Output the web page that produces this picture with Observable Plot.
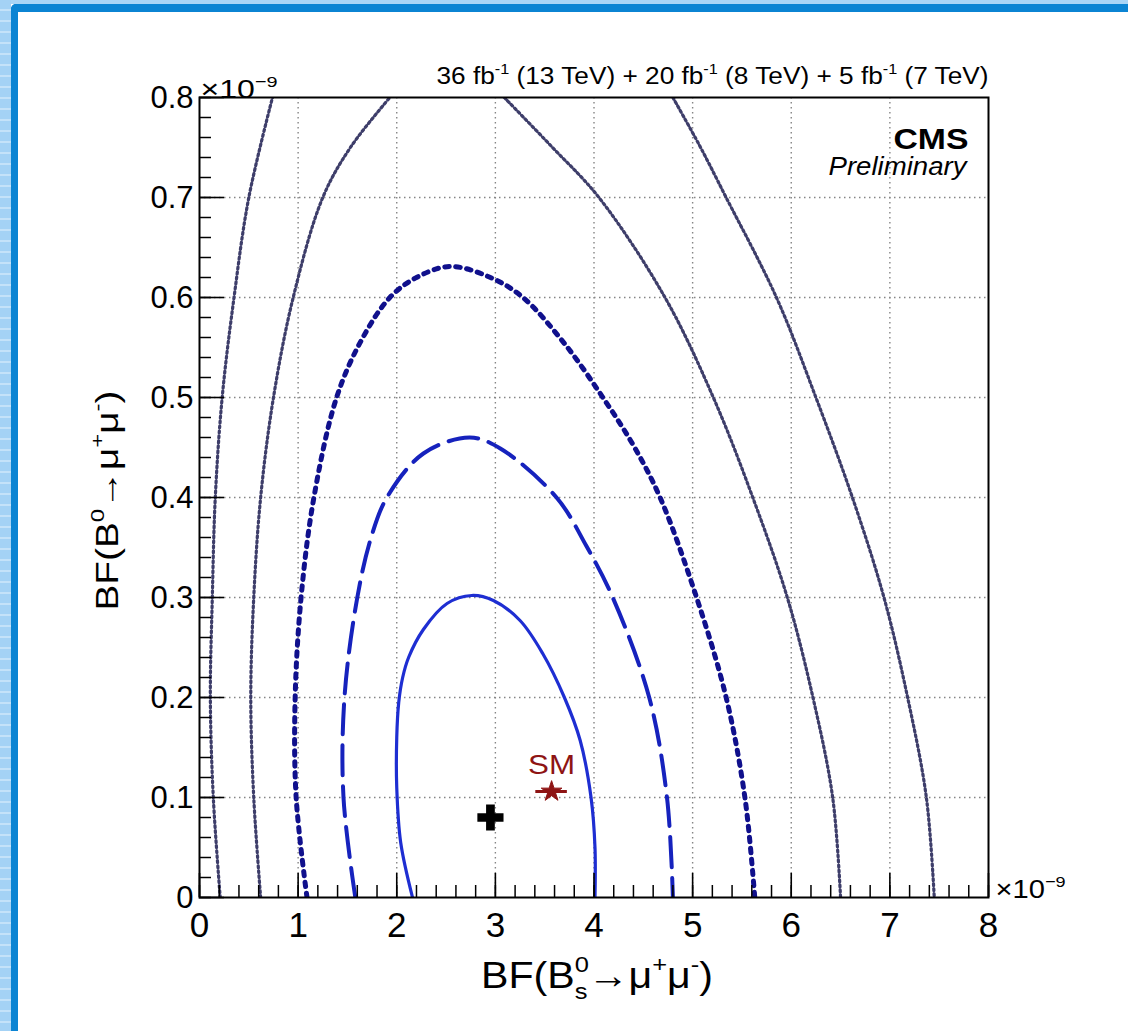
<!DOCTYPE html>
<html>
<head>
<meta charset="utf-8">
<script src="https://cdn.jsdelivr.net/npm/d3@7"></script>
<script src="https://cdn.jsdelivr.net/npm/@observablehq/plot@0.6"></script>
<style>
  html, body { margin: 0; padding: 0; background: #ffffff; }
  #page { position: relative; width: 1128px; height: 1031px; overflow: hidden; background: #ffffff; }
  #lightTop { position: absolute; left: 0; top: 0; width: 1128px; height: 4px; background: #a9d5f6; }
  #lightLeft { position: absolute; left: 0; top: 0; width: 11px; height: 1031px;
    background: repeating-linear-gradient(180deg, #a4d2f5 0px, #a4d2f5 9px, #c4e2f9 9px, #c4e2f9 11px); }
  #darkTop { position: absolute; left: 11px; top: 4px; width: 1117px; height: 8px; background: #0b84d3; border-top-left-radius: 5px; }
  #darkLeft { position: absolute; left: 11px; top: 4px; width: 7px; height: 1027px; background: #0b84d3; border-top-left-radius: 5px; }
  #chart { position: absolute; left: 0; top: 0; }
</style>
</head>
<body>
<div id="page">
  <div id="lightTop"></div><div id="lightLeft"></div>
  <div id="darkTop"></div><div id="darkLeft"></div>
  <div id="chart"></div>
</div>
<script>
// ---------------- data (units of 1e-9) ----------------
const sigma1X = [2.16, 2.04, 2.00, 2.00, 2.02, 2.06, 2.12, 2.27, 2.51, 2.76, 2.98, 3.25, 3.48, 3.70, 3.86, 3.97, 4.01, 4.01];
const sigma1Y = [0.000, 0.055, 0.110, 0.160, 0.195, 0.220, 0.240, 0.268, 0.294, 0.302, 0.297, 0.277, 0.244, 0.200, 0.157, 0.100, 0.050, 0.000];

const sigma2X = [1.58, 1.46, 1.47, 1.60, 1.74, 1.90, 2.27, 2.74, 3.05, 3.62, 3.92, 4.19, 4.56, 4.74, 4.80];
const sigma2Y = [0.000, 0.100, 0.200, 0.300, 0.360, 0.400, 0.444, 0.460, 0.449, 0.400, 0.352, 0.300, 0.200, 0.100, 0.000];

const sigma3X = [1.09, 0.98, 0.97, 1.03, 1.16, 1.39, 1.64, 1.93, 2.20, 2.54, 2.95, 3.28, 3.70, 4.09, 4.40, 4.67, 5.04, 5.34, 5.53, 5.63];
const sigma3Y = [0.000, 0.100, 0.200, 0.300, 0.400, 0.500, 0.557, 0.600, 0.620, 0.631, 0.620, 0.600, 0.554, 0.500, 0.452, 0.400, 0.300, 0.200, 0.100, 0.000];

const sigma4LeftX = [0.62, 0.55, 0.52, 0.55, 0.62, 0.75, 0.95, 1.25, 1.53, 1.93];
const sigma4LeftY = [0.000, 0.100, 0.200, 0.300, 0.400, 0.500, 0.600, 0.700, 0.750, 0.800];
const sigma4RightX = [3.09, 3.57, 4.05, 4.72, 5.21, 5.61, 5.96, 6.22, 6.42, 6.50];
const sigma4RightY = [0.800, 0.751, 0.700, 0.600, 0.500, 0.400, 0.300, 0.200, 0.100, 0.000];

const sigma5LeftX = [0.21, 0.14, 0.11, 0.13, 0.16, 0.23, 0.35, 0.50, 0.74];
const sigma5LeftY = [0.000, 0.100, 0.200, 0.300, 0.400, 0.500, 0.600, 0.700, 0.800];
const sigma5RightX = [4.80, 5.07, 5.34, 5.85, 6.25, 6.62, 6.94, 7.18, 7.37, 7.45];
const sigma5RightY = [0.800, 0.752, 0.700, 0.600, 0.500, 0.400, 0.300, 0.200, 0.100, 0.000];

const bestFit = [{x: 2.95, y: 0.080}];
const smPoint = [{x: 3.57, y: 0.106, xlo: 3.41, xhi: 3.73, label: "SM"}];

const xTickValues = [0, 1, 2, 3, 4, 5, 6, 7, 8];
const xTickLabels = ["0", "1", "2", "3", "4", "5", "6", "7", "8"];
const yTickValues = [0, 0.1, 0.2, 0.3, 0.4, 0.5, 0.6, 0.7, 0.8];
const yTickLabels = ["0", "0.1", "0.2", "0.3", "0.4", "0.5", "0.6", "0.7", "0.8"];
const xGridValues = [1, 2, 3, 4, 5, 6, 7];
const yGridValues = [0.1, 0.2, 0.3, 0.4, 0.5, 0.6, 0.7];

const headerText = "36 fb^{-1} (13 TeV) + 20 fb^{-1} (8 TeV) + 5 fb^{-1} (7 TeV)";
const cmsText = "CMS";
const prelimText = "Preliminary";
const exponentTopText = "×10^{−9}";
const exponentRightText = "×10^{−9} ";
const xTitle = "BF(B^{0}_{s}→μ^{+}μ^{-})";
const yTitle = "BF(B^{0}→μ^{+}μ^{-})";

// ---------------- build tables ----------------
function toPoints(xs, ys, branch) { return xs.map((x, i) => ({x, y: ys[i], branch})); }
const c1 = toPoints(sigma1X, sigma1Y, "a");
const c2 = toPoints(sigma2X, sigma2Y, "a");
const c3 = toPoints(sigma3X, sigma3Y, "a");
const c4 = toPoints(sigma4LeftX, sigma4LeftY, "left").concat(toPoints(sigma4RightX, sigma4RightY, "right"));
const c5 = toPoints(sigma5LeftX, sigma5LeftY, "left").concat(toPoints(sigma5RightX, sigma5RightY, "right"));

const xMinor = d3.range(0, 8.0001, 0.2);
const yMinor = d3.range(0, 0.8001, 0.02);

const W = 1128, H = 1031;
const mL = 199, mR = 140, mT = 97, mB = 134;
const plotW = W - mL - mR, plotH = H - mT - mB;

const lineBase = {x: "x", y: "y", z: "branch", curve: "catmull-rom", clip: true, fill: "none"};

const chart = Plot.plot({
  width: W, height: H,
  marginLeft: mL, marginRight: mR, marginTop: mT, marginBottom: mB,
  style: {fontFamily: "'Liberation Sans', Arial, Helvetica, sans-serif", background: "transparent", overflow: "visible", color: "black"},
  x: {domain: [0, 8], axis: null},
  y: {domain: [0, 0.8], axis: null},
  marks: [
    Plot.ruleX(xGridValues, {x: d => d, stroke: "#858585", strokeWidth: 1.4, strokeDasharray: "1.5,3.5", strokeOpacity: 1}),
    Plot.ruleY(yGridValues, {y: d => d, stroke: "#858585", strokeWidth: 1.4, strokeDasharray: "1.5,3.5", strokeOpacity: 1}),

    Plot.line(c5, {...lineBase, stroke: "#3e3e6a", strokeWidth: 3.2, strokeDasharray: "2,3"}),
    Plot.line(c4, {...lineBase, stroke: "#3e3e6a", strokeWidth: 3.2, strokeDasharray: "2,3"}),
    Plot.line(c3, {...lineBase, stroke: "#10108c", strokeWidth: 5, strokeDasharray: "4.5,6.5"}),
    Plot.line(c2, {...lineBase, stroke: "#1622bd", strokeWidth: 4, strokeDasharray: "30,11"}),
    Plot.line(c1, {...lineBase, stroke: "#1e2ed2", strokeWidth: 3.2}),

    Plot.tickX(xTickValues, {x: d => d, insetTop: plotH - 24, stroke: "black", strokeWidth: 1.6}),
    Plot.tickX(xMinor, {x: d => d, insetTop: plotH - 12, stroke: "black", strokeWidth: 1.5}),
    Plot.tickY(yTickValues, {y: d => d, insetRight: plotW - 25, stroke: "black", strokeWidth: 1.6}),
    Plot.tickY(yMinor, {y: d => d, insetRight: plotW - 12, stroke: "black", strokeWidth: 1.5}),
    Plot.frame({stroke: "black", strokeWidth: 2}),

    Plot.text(xTickValues, {x: d => d, text: (d, i) => xTickLabels[i], frameAnchor: "bottom", lineAnchor: "top", dy: 15, fontSize: 35, fill: "black"}),
    Plot.text(yTickValues, {y: d => d, text: (d, i) => yTickLabels[i], frameAnchor: "left", textAnchor: "end", lineAnchor: "middle", dx: -6, dy: 1, fontSize: 31, fill: "black"}),

    Plot.text([exponentTopText], {text: d => d, frameAnchor: "top-left", textAnchor: "start", lineAnchor: "bottom", dx: 1, dy: 0, fontSize: 25, fill: "black"}),
    Plot.text([exponentRightText], {text: d => d, frameAnchor: "bottom-right", textAnchor: "start", lineAnchor: "bottom", dx: 7, dy: 0, fontSize: 25, fill: "black"}),

    Plot.text([headerText], {text: d => d, frameAnchor: "top-right", textAnchor: "end", lineAnchor: "bottom", dy: -14, fontSize: 23, fill: "black"}),
    Plot.text([cmsText], {text: d => d, frameAnchor: "top-right", textAnchor: "end", lineAnchor: "bottom", dx: -20, dy: 51, fontSize: 29, fontWeight: "bold", fill: "black"}),
    Plot.text([prelimText], {text: d => d, frameAnchor: "top-right", textAnchor: "end", lineAnchor: "bottom", dx: -22, dy: 77, fontSize: 25, fontStyle: "italic", fill: "black"}),

    Plot.text([xTitle], {text: d => d, frameAnchor: "bottom", textAnchor: "middle", lineAnchor: "bottom", dx: 3, dy: 90, fontSize: 37, fill: "black"}),
    Plot.text([yTitle], {text: d => d, frameAnchor: "left", textAnchor: "middle", lineAnchor: "bottom", rotate: -90, dx: -82, dy: 3, fontSize: 31, fill: "black"}),

    Plot.dot(bestFit, {x: "x", y: "y", symbol: "cross", r: 11, fill: "black", stroke: "none"}),
    Plot.ruleY(smPoint, {y: "y", x1: "xlo", x2: "xhi", stroke: "#8e1414", strokeWidth: 3}),
    Plot.dot(smPoint, {x: "x", y: "y", symbol: "star", r: 6.5, fill: "#8e1414", stroke: "#8e1414", strokeWidth: 1}),
    Plot.text(smPoint, {x: "x", y: "y", text: "label", dy: -26, lineAnchor: "middle", fontSize: 28, fill: "#8e1414"})
  ]
});

document.getElementById("chart").appendChild(chart);

// ---------------- rich text (superscripts / subscripts) and stretched widths ----------------
const stretchTo = new Map([
  [yTitle, 220], [xTitle, 232], [headerText, 552], [cmsText, 75], [prelimText, 138],
  [exponentTopText, 77], [exponentRightText, 70], ["SM", 47]
]);
const NS = "http://www.w3.org/2000/svg";
function richify(el) {
  const src = el.textContent;
  if (/[\^_]\{/.test(src)) {
    const fs = parseFloat(getComputedStyle(el).fontSize);
    const parts = src.trimEnd().split(/(\^\{[^}]*\}|_\{[^}]*\})/).filter(s => s !== "");
    el.textContent = "";
    let shift = 0, prevSup = null;
    for (const p of parts) {
      let kind = "n", t = p;
      if (p.startsWith("^{")) { kind = "sup"; t = p.slice(2, -1); }
      else if (p.startsWith("_{")) { kind = "sub"; t = p.slice(2, -1); }
      const target = kind === "sup" ? -0.42 * fs : kind === "sub" ? 0.3 * fs : 0;
      const ts = document.createElementNS(NS, "tspan");
      ts.textContent = t;
      if (kind !== "n") ts.setAttribute("font-size", (0.62 * fs).toFixed(2));
      const d = target - shift;
      if (d) ts.setAttribute("dy", d.toFixed(2));
      el.appendChild(ts);
      if (kind === "sub" && prevSup) ts.setAttribute("dx", (-prevSup.getComputedTextLength()).toFixed(2));
      shift = target;
      prevSup = kind === "sup" ? ts : null;
    }
  }
  if (stretchTo.has(src)) {
    el.setAttribute("textLength", stretchTo.get(src));
    el.setAttribute("lengthAdjust", "spacingAndGlyphs");
  }
}
chart.querySelectorAll("text").forEach(richify);
</script>
</body>
</html>
